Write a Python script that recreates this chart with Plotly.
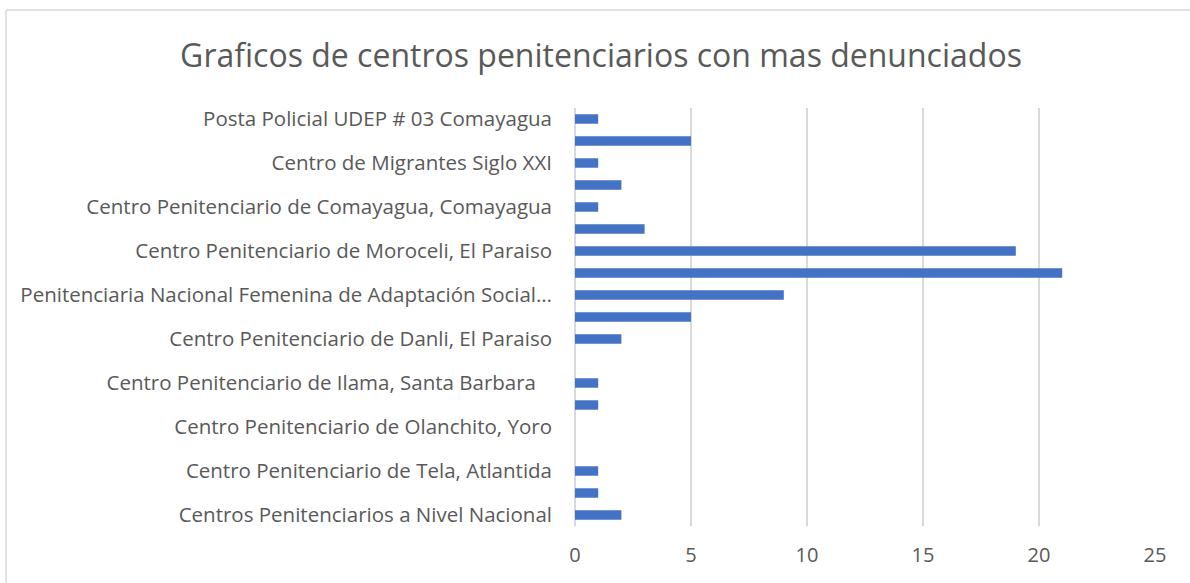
import plotly.graph_objects as go

# Categories from bottom to top
categorias = [
    "Centros Penitenciarios a Nivel Nacional",
    "Categoría sin etiqueta 1",
    "Centro Penitenciario de Tela, Atlantida",
    "Categoría sin etiqueta 2",
    "Centro Penitenciario de Olanchito, Yoro",
    "Categoría sin etiqueta 3",
    "Centro Penitenciario de Ilama, Santa Barbara\u00a0\u00a0\u00a0",
    "Categoría sin etiqueta 4",
    "Centro Penitenciario de Danli, El Paraiso",
    "Categoría sin etiqueta 5",
    "Penitenciaria Nacional Femenina de Adaptación Social…",
    "Categoría sin etiqueta 6",
    "Centro Penitenciario de Moroceli, El Paraiso",
    "Categoría sin etiqueta 7",
    "Centro Penitenciario de Comayagua, Comayagua",
    "Categoría sin etiqueta 8",
    "Centro de Migrantes Siglo XXI",
    "Categoría sin etiqueta 9",
    "Posta Policial UDEP # 03 Comayagua",
]
valores = [2, 1, 1, 0, 0, 1, 1, 0, 2, 5, 9, 21, 19, 3, 1, 2, 1, 5, 1]

etiquetas_visibles = categorias[::2]

W, H = 1190, 583
L, R, T, B = 575, 35, 108, 57
pw, ph = W - L - R, H - T - B

fig = go.Figure(go.Bar(
    x=valores, y=categorias, orientation="h",
    marker=dict(color="#4472C4", line=dict(width=0)),
))

def fx(px):
    return (px - L) / pw

def fy(py):
    return 1 - (py - T) / ph

borde = dict(color="#D9D9D9", width=1.5)

fig.update_layout(
    width=W, height=H,
    margin=dict(l=L, r=R, t=T, b=B, autoexpand=False),
    paper_bgcolor="white", plot_bgcolor="white",
    bargap=0.57,
    showlegend=False,
    font=dict(family="Open Sans, Calibri, sans-serif", size=20, color="#595959"),
    title=dict(text="Graficos de centros penitenciarios con mas denunciados",
               x=601 / W, xanchor="center", y=1 - 56 / H, yanchor="middle",
               font=dict(size=32, color="#595959")),
    xaxis=dict(range=[0, 25], dtick=5, showgrid=True, gridcolor="#D9D9D9",
               gridwidth=1.5, zeroline=True, zerolinecolor="#D9D9D9",
               zerolinewidth=1.5, showline=False, ticks="",
               ticklabelstandoff=15, tickfont=dict(size=20, color="#595959")),
    yaxis=dict(type="category", categoryorder="array", categoryarray=categorias,
               tickmode="array", tickvals=etiquetas_visibles,
               ticktext=etiquetas_visibles, showgrid=False, zeroline=False,
               showline=False, ticks="", ticklabelstandoff=22,
               tickfont=dict(size=20.5, color="#595959")),
    shapes=[
        dict(type="line", xref="paper", yref="paper",
             x0=fx(6), x1=fx(W), y0=fy(10), y1=fy(10), line=borde, layer="below"),
        dict(type="line", xref="paper", yref="paper",
             x0=fx(6), x1=fx(6), y0=fy(10), y1=fy(H), line=borde, layer="below"),
    ],
)

fig.write_html("out.html", config={"displayModeBar": False},
               post_script="document.body.style.margin='0';")
